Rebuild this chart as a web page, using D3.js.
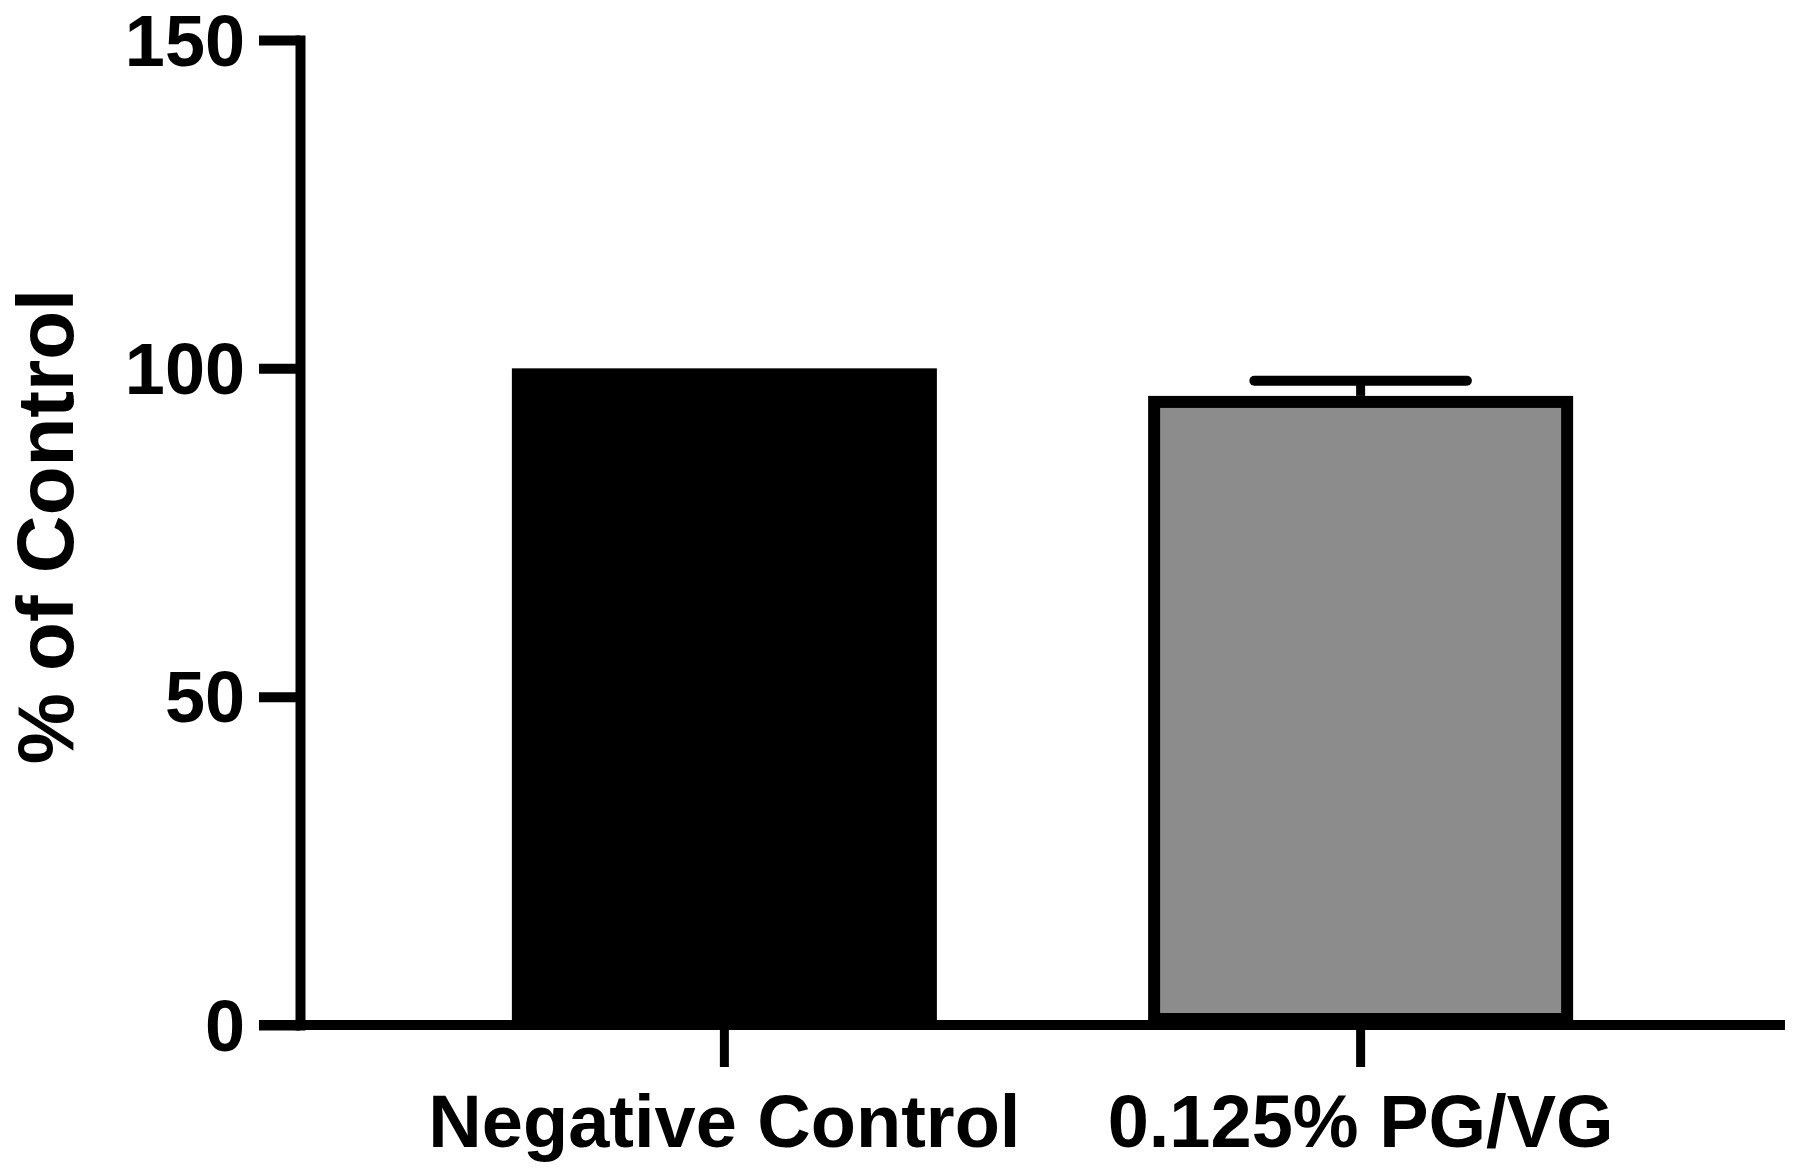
<!DOCTYPE html>
<html>
<head>
<meta charset="utf-8">
<script src="https://cdn.jsdelivr.net/npm/d3@7"></script>
<style>
  body { margin: 0; background: #fff; }
  svg text { font-family: "Liberation Sans", Arial, sans-serif; font-weight: bold; fill: #000; }
</style>
</head>
<body>
<svg id="chart" width="1800" height="1168"></svg>
<script>
// values
const groups = ['Negative Control', '0.125% PG/VG'];
const means = [100, 95.8];
const sems = [0, 2.3];
const yTicks = [0, 50, 100, 150];

let svg = d3.select('#chart');

let x = d3.scaleBand()
  .domain(groups)
  .range([300, 1785])
  .paddingInner(0.332)
  .paddingOuter(0.333);

let y = d3.scaleLinear()
  .domain([0, 150])
  .range([1025, 40]);

const fillColor = d3.scaleOrdinal()
  .domain(groups)
  .range(['#000000', '#8c8c8c']);

const borderWidth = 12;
const lineWidth = 10;

let data = groups.map(function(g, i) {
  return { group: g, mean: means[i], sem: sems[i] };
});

// bars: border is drawn inside the bar outline like Prism does
svg.selectAll('.bar').data(data).enter()
  .append('rect')
    .attr('class', 'bar')
    .attr('x', function(d) { return x(d.group) + borderWidth / 2; })
    .attr('y', function(d) { return y(d.mean) + borderWidth / 2; })
    .attr('width', x.bandwidth() - borderWidth)
    .attr('height', function(d) { return y(0) - y(d.mean) - borderWidth; })
    .attr('fill', function(d) { return fillColor(d.group); })
    .attr('stroke', '#000')
    .attr('stroke-width', borderWidth);

// error bars (upper only)
let err = svg.selectAll('.err').data(data.filter(function(d) { return d.sem > 0; })).enter()
  .append('g')
    .attr('class', 'err');

err.append('line')
  .attr('x1', function(d) { return x(d.group) + x.bandwidth() / 2; })
  .attr('x2', function(d) { return x(d.group) + x.bandwidth() / 2; })
  .attr('y1', function(d) { return y(d.mean); })
  .attr('y2', function(d) { return y(d.mean + d.sem); })
  .attr('stroke', '#000')
  .attr('stroke-width', 9);

err.append('line')
  .attr('x1', function(d) { return x(d.group) + x.bandwidth() / 4; })
  .attr('x2', function(d) { return x(d.group) + x.bandwidth() * 3 / 4; })
  .attr('y1', function(d) { return y(d.mean + d.sem); })
  .attr('y2', function(d) { return y(d.mean + d.sem); })
  .attr('stroke', '#000')
  .attr('stroke-width', lineWidth)
  .attr('stroke-linecap', 'round');

// y axis
let yAxis = svg.append('g')
  .attr('transform', 'translate(300,0)')
  .call(d3.axisLeft(y).tickValues(yTicks).tickSize(41).tickSizeOuter(0).tickPadding(14));

yAxis.select('.domain')
  .attr('stroke-width', lineWidth)
  .attr('stroke-linecap', 'square');
yAxis.selectAll('.tick line')
  .attr('stroke-width', lineWidth);
yAxis.selectAll('.tick text')
  .attr('font-size', 72)
  .attr('dy', '0.35em');

// x axis
let xAxis = svg.append('g')
  .attr('transform', 'translate(0,' + y(0) + ')')
  .call(d3.axisBottom(x).tickSize(42).tickSizeOuter(0).tickPadding(27));

xAxis.select('.domain')
  .attr('d', 'M' + (300 - 41) + ',0H' + x.range()[1])
  .attr('stroke-width', lineWidth);
xAxis.selectAll('.tick line')
  .attr('stroke-width', 9);
xAxis.selectAll('.tick text')
  .attr('font-size', 74)
  .attr('dy', '0.71em');

svg.selectAll('.domain, .tick line').attr('stroke', '#000');

// y axis title
svg.append('text')
  .attr('transform', 'translate(73,' + ((y(0) + y(150)) / 2 - 6) + ') rotate(-90)')
  .attr('text-anchor', 'middle')
  .attr('font-size', 80)
  .text('% of Control');
</script>
</body>
</html>
